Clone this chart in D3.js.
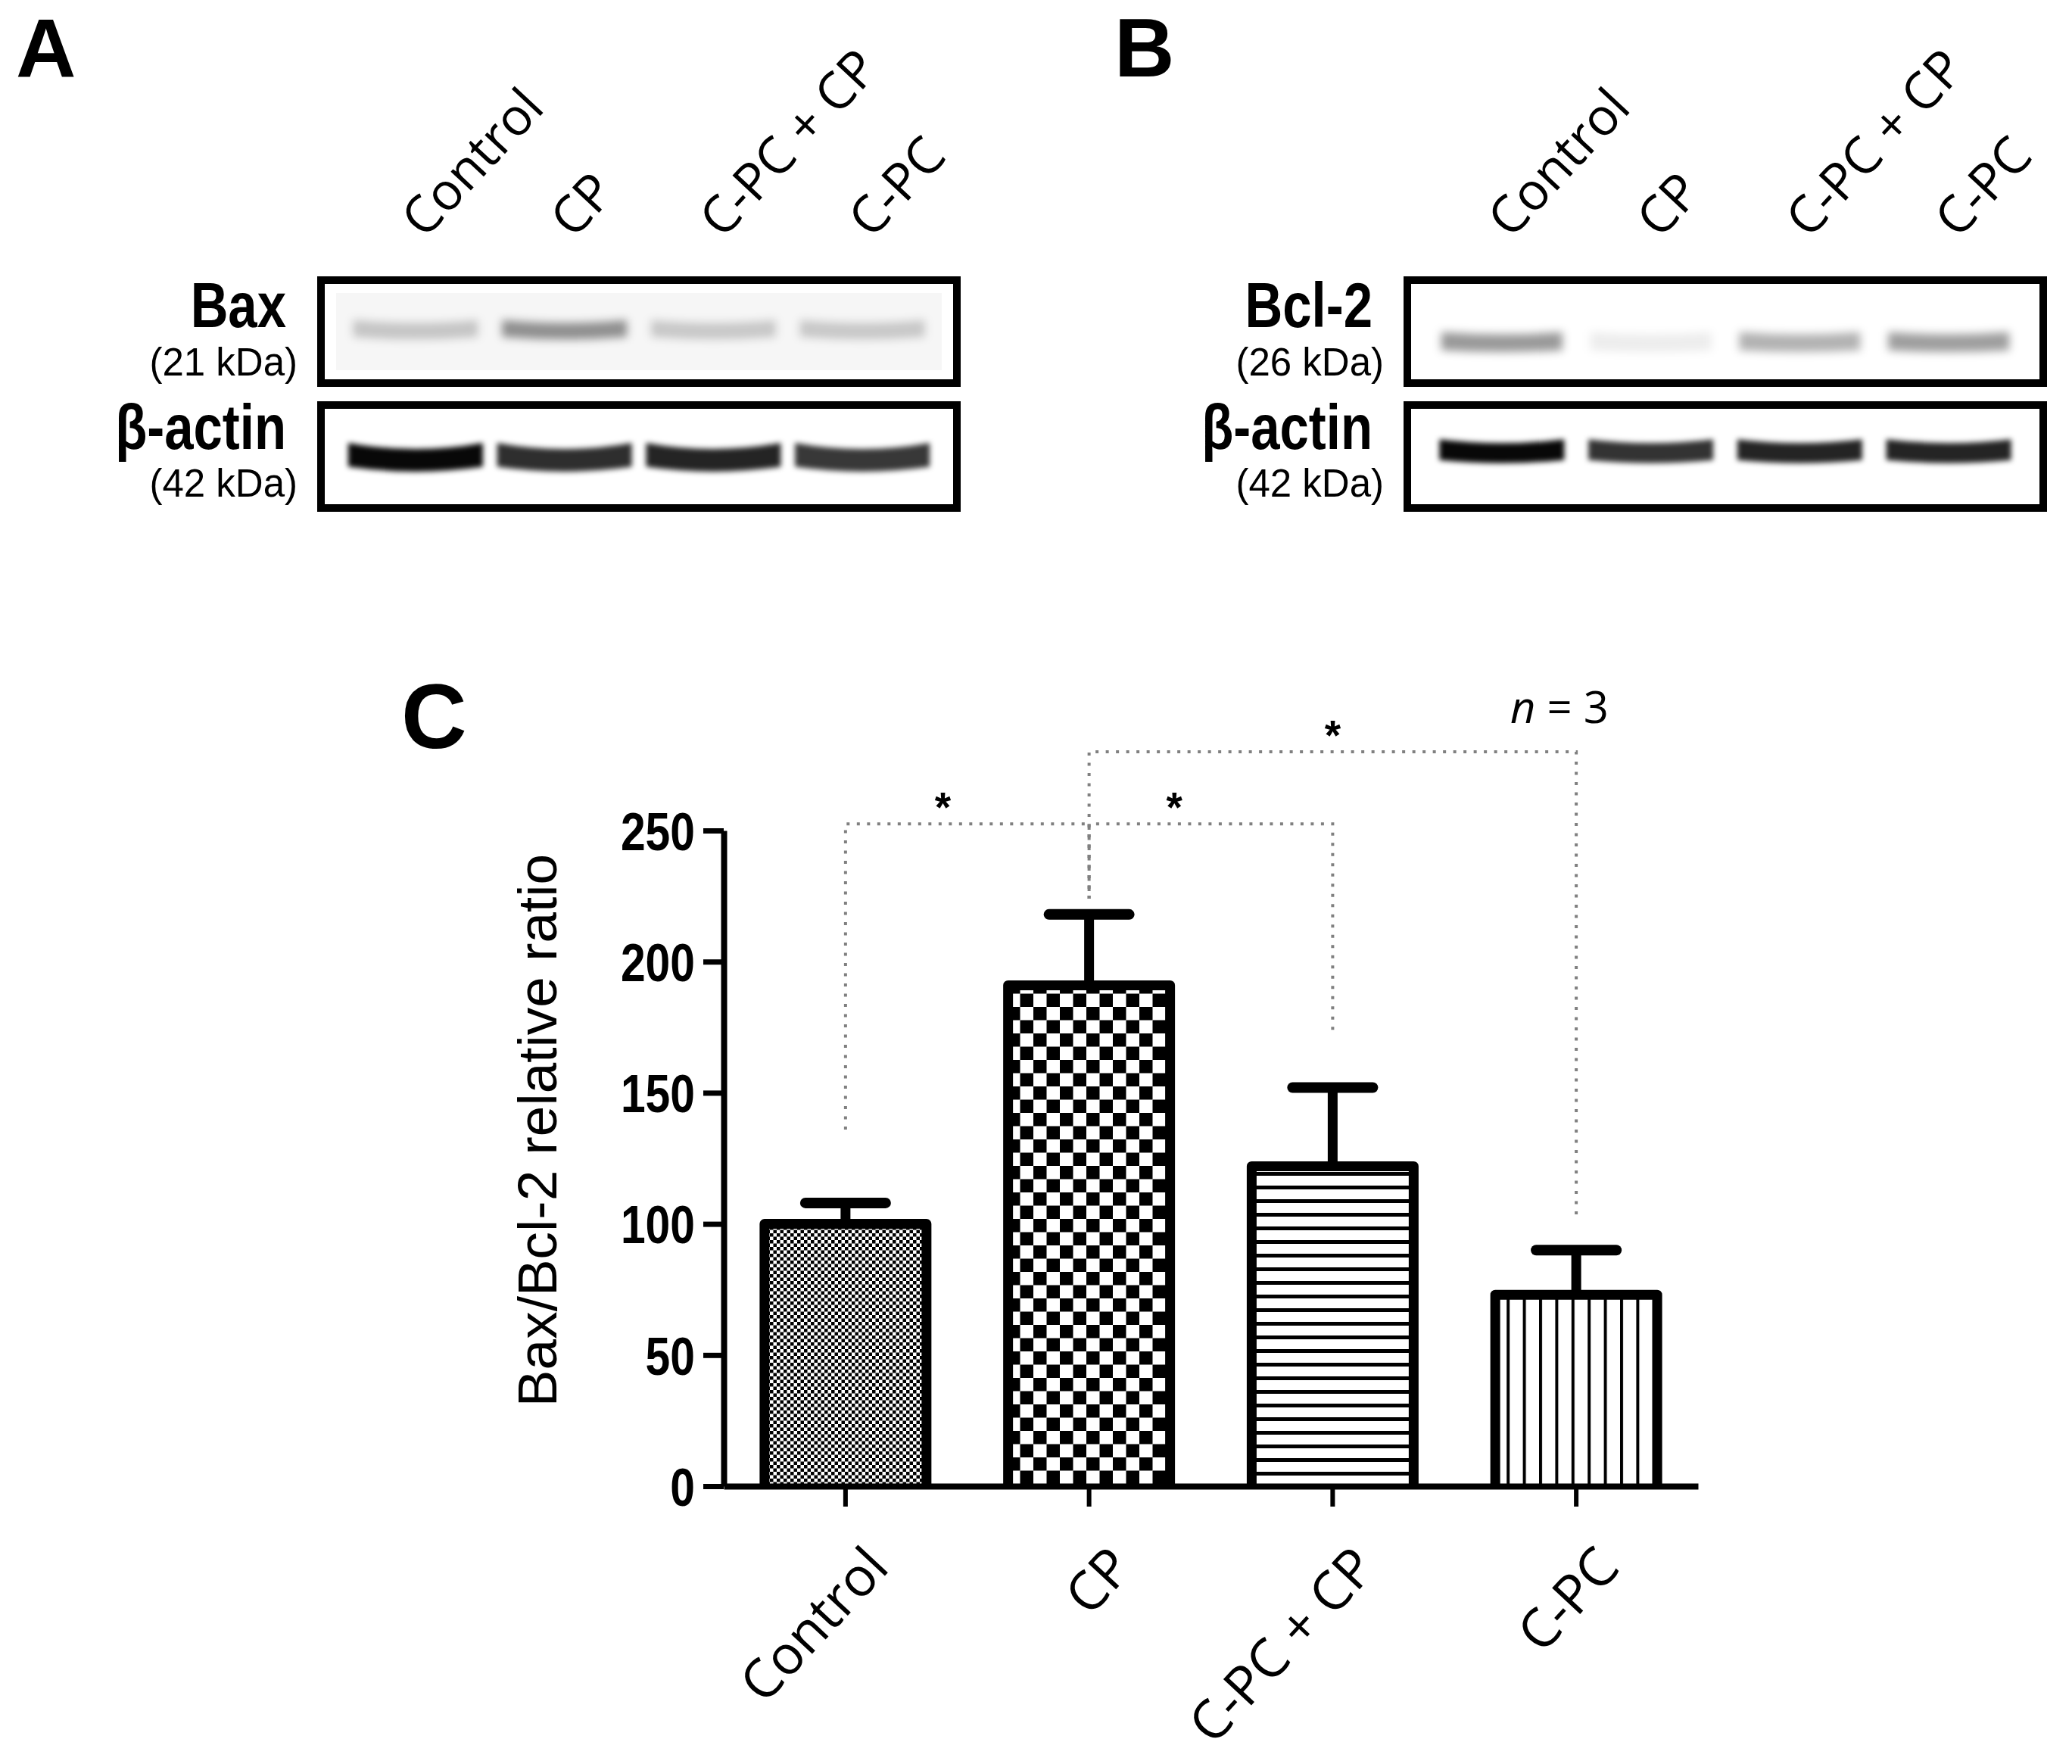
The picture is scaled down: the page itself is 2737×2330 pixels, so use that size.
<!DOCTYPE html>
<html>
<head>
<meta charset="utf-8">
<script src="https://cdn.jsdelivr.net/npm/d3@7"></script>
<style>
body { margin: 0; background: #fff; }
svg { display: block; }
</style>
</head>
<body>
<div id="fig"></div>
<script>
// bar chart (panel C)
var groups = ["Control", "CP", "C-PC + CP", "C-PC"];
var ratioMean = [100, 191, 122, 73];
var ratioSem = [8, 27, 30, 17];
var yTicks = [0, 50, 100, 150, 200, 250];
var barFill = ["fine", "checker", "hstripe", "vstripe"];

// significance brackets
var bracketFrom = ["Control", "CP", "CP"];
var bracketTo = ["CP", "C-PC + CP", "C-PC"];
var bracketLevel = [252.5, 252.5, 280];
var bracketDropFrom = [136, 224, 224];
var bracketDropTo = [224, 173, 103];
var bracketStarAt = [0.4, 0.35, 0.5];
var bracketMark = ["*", "*", "*"];

// western blots (panels A, B): relative band density per lane, 0 = blank, 1 = black
var lanes = ["Control", "CP", "C-PC + CP", "C-PC"];
var baxBand = [0.2, 0.42, 0.19, 0.19];
var actinBandA = [0.97, 0.82, 0.86, 0.78];
var bcl2Band = [0.4, 0.07, 0.3, 0.38];
var actinBandB = [0.97, 0.8, 0.86, 0.86];

var W = 2737, H = 2330;

var svg = d3.select("#fig").append("svg")
    .attr("width", W)
    .attr("height", H)
    .style("font-family", "'Liberation Sans', Arial, sans-serif");

var defs = svg.append("defs");

// hatch patterns like the prism output
var p = defs.append("pattern").attr("id", "fine")
    .attr("patternUnits", "userSpaceOnUse").attr("width", 9).attr("height", 9);
p.append("rect").attr("width", 9).attr("height", 9).attr("fill", "#fff");
p.append("rect").attr("width", 4.5).attr("height", 4.5).attr("fill", "#000");
p.append("rect").attr("x", 4.5).attr("y", 4.5).attr("width", 4.5).attr("height", 4.5).attr("fill", "#000");

p = defs.append("pattern").attr("id", "checker")
    .attr("patternUnits", "userSpaceOnUse").attr("width", 35).attr("height", 35);
p.append("rect").attr("width", 35).attr("height", 35).attr("fill", "#fff");
p.append("rect").attr("width", 17.5).attr("height", 17.5).attr("fill", "#000");
p.append("rect").attr("x", 17.5).attr("y", 17.5).attr("width", 17.5).attr("height", 17.5).attr("fill", "#000");

p = defs.append("pattern").attr("id", "hstripe")
    .attr("patternUnits", "userSpaceOnUse").attr("width", 10).attr("height", 18);
p.append("rect").attr("width", 10).attr("height", 18).attr("fill", "#fff");
p.append("rect").attr("width", 10).attr("height", 5).attr("fill", "#000");

p = defs.append("pattern").attr("id", "vstripe")
    .attr("patternUnits", "userSpaceOnUse").attr("width", 21.4).attr("height", 10);
p.append("rect").attr("width", 21.4).attr("height", 10).attr("fill", "#fff");
p.append("rect").attr("width", 4).attr("height", 10).attr("fill", "#000");

defs.append("filter").attr("id", "blurSoft").attr("x", "-20%").attr("y", "-100%")
    .attr("width", "140%").attr("height", "300%")
  .append("feGaussianBlur").attr("stdDeviation", 6);
defs.append("filter").attr("id", "blurHard").attr("x", "-20%").attr("y", "-100%")
    .attr("width", "140%").attr("height", "300%")
  .append("feGaussianBlur").attr("stdDeviation", 3.5);

// squeeze text horizontally (Arial Narrow look)
function narrow(sel, k) {
  sel.each(function() {
    var t = d3.select(this);
    t.attr("textLength", this.getComputedTextLength() * k)
     .attr("lengthAdjust", "spacingAndGlyphs");
  });
}

function bandPath(cx, cy, w, h, bend) {
  return "M" + (cx - w / 2) + "," + (cy - h / 2 - bend) +
    "Q" + cx + "," + (cy - h / 2 + bend) + " " + (cx + w / 2) + "," + (cy - h / 2 - bend) +
    "L" + (cx + w / 2) + "," + (cy + h / 2 - bend * 0.3) +
    "Q" + cx + "," + (cy + h / 2 + bend * 1.3) + " " + (cx - w / 2) + "," + (cy + h / 2 - bend * 0.3) + "Z";
}

// ---------- blots ----------
var blotW = 850, rowTop = [365, 530], rowH = 146;
var nameBase = [67, 63], kdaBase = [131, 126];

function blotPanel(left, letterX, letter, rows) {
  var g = svg.append("g");
  var lane = d3.scalePoint().domain(lanes).range([left, left + blotW]).padding(0.66);

  g.append("text")
      .attr("x", letterX).attr("y", 101)
      .attr("font-size", 110).attr("font-weight", "bold")
      .text(letter);

  g.selectAll(".lane").data(lanes).enter().append("text")
      .attr("class", "lane")
      .attr("transform", function(d) { return "translate(" + (lane(d) + 12) + ",317) rotate(-47)"; })
      .attr("font-family", "'Open Sans', sans-serif")
      .attr("font-size", 68)
      .text(function(d) { return d; });

  rows.forEach(function(r, i) {
    var top = rowTop[i];
    if (r.haze) {
      g.append("rect")
          .attr("x", left + 25).attr("y", top + 22)
          .attr("width", blotW - 50).attr("height", rowH - 44)
          .attr("fill", "#f6f6f6");
    }
    g.selectAll(".band" + i).data(r.density).enter().append("path")
        .attr("d", function(d, j) {
          return bandPath(lane(lanes[j]), top + rowH * r.pos, r.w, r.h, r.bend);
        })
        .attr("fill", "#000")
        .attr("fill-opacity", function(d) { return d; })
        .attr("filter", r.sharp ? "url(#blurHard)" : "url(#blurSoft)");

    g.append("rect")
        .attr("x", left + 5).attr("y", top + 5)
        .attr("width", blotW - 10).attr("height", rowH - 10)
        .attr("fill", "none").attr("stroke", "#000").attr("stroke-width", 10);

    var name = g.append("text")
        .attr("x", left - 41).attr("y", top + nameBase[i])
        .attr("text-anchor", "end")
        .attr("font-size", 84).attr("font-weight", "bold")
        .text(r.name);
    narrow(name, 0.82);

    g.append("text")
        .attr("x", left - 26).attr("y", top + kdaBase[i])
        .attr("text-anchor", "end")
        .attr("font-size", 51)
        .text(r.kda);
  });
}

blotPanel(419, 21, "A", [
  {name: "Bax", kda: "(21 kDa)", density: baxBand, pos: 0.49, w: 165, h: 20, bend: 4, haze: true},
  {name: "β-actin", kda: "(42 kDa)", density: actinBandA, pos: 0.52, w: 178, h: 26, bend: 8, sharp: true}
]);
blotPanel(1854, 1472, "B", [
  {name: "Bcl-2", kda: "(26 kDa)", density: bcl2Band, pos: 0.6, w: 160, h: 22, bend: 3},
  {name: "β-actin", kda: "(42 kDa)", density: actinBandB, pos: 0.46, w: 165, h: 24, bend: 5, sharp: true}
]);

// ---------- bar chart ----------
var chart = svg.append("g");

chart.append("text")
    .attr("x", 530).attr("y", 988)
    .attr("font-size", 120).attr("font-weight", "bold")
    .text("C");

var x = d3.scaleBand()
    .domain(groups)
    .range([956, 2243])
    .paddingInner(0.335)
    .paddingOuter(0.1675);

var y = d3.scaleLinear()
    .domain([0, 250])
    .range([1963, 1097]);

var data = groups.map(function(g, i) {
  return {group: g, mean: ratioMean[i], sem: ratioSem[i], fill: barFill[i]};
});

// bars without bottom edge
chart.selectAll(".bar").data(data).enter().append("path")
    .attr("class", "bar")
    .attr("d", function(d) {
      var x0 = x(d.group), x1 = x0 + x.bandwidth();
      return "M" + x0 + "," + y(0) + "V" + y(d.mean) + "H" + x1 + "V" + y(0);
    })
    .attr("fill", function(d) { return "url(#" + d.fill + ")"; })
    .attr("stroke", "#000")
    .attr("stroke-width", 13)
    .attr("stroke-linejoin", "round");

var cx = function(d) { return x(d.group) + x.bandwidth() / 2; };

chart.selectAll(".err").data(data).enter().append("line")
    .attr("x1", cx).attr("x2", cx)
    .attr("y1", function(d) { return y(d.mean); })
    .attr("y2", function(d) { return y(d.mean + d.sem); })
    .attr("stroke", "#000").attr("stroke-width", 13);

chart.selectAll(".cap").data(data).enter().append("line")
    .attr("x1", function(d) { return cx(d) - 53; })
    .attr("x2", function(d) { return cx(d) + 53; })
    .attr("y1", function(d) { return y(d.mean + d.sem); })
    .attr("y2", function(d) { return y(d.mean + d.sem); })
    .attr("stroke", "#000").attr("stroke-width", 14)
    .attr("stroke-linecap", "round");

// axes
var yAxis = chart.append("g")
    .attr("transform", "translate(956,0)")
    .call(d3.axisLeft(y).tickValues(yTicks).tickSize(27).tickSizeOuter(0).tickPadding(11));
yAxis.select(".domain").attr("stroke-width", 8);
yAxis.selectAll(".tick line").attr("stroke-width", 7);
yAxis.selectAll(".tick text")
    .attr("font-family", "'Liberation Sans', Arial, sans-serif")
    .attr("font-size", 70).attr("font-weight", "bold")
    .attr("fill", "#000")
    .attr("dy", "0.36em");
narrow(yAxis.selectAll(".tick text"), 0.84);

var xAxis = chart.append("g")
    .attr("transform", "translate(0,1963)")
    .call(d3.axisBottom(x).tickSize(27).tickSizeOuter(0));
xAxis.select(".domain").attr("stroke-width", 8);
xAxis.selectAll(".tick line").attr("stroke-width", 6);
xAxis.selectAll(".tick text")
    .attr("font-family", "'Open Sans', sans-serif")
    .attr("font-size", 71)
    .attr("fill", "#000")
    .attr("text-anchor", "end")
    .attr("x", null).attr("y", null).attr("dy", null)
    .attr("transform", "translate(60,110) rotate(-47)");

chart.append("text")
    .attr("transform", "translate(735,1493) rotate(-90)")
    .attr("text-anchor", "middle")
    .attr("font-size", 73)
    .text("Bax/Bcl-2 relative ratio");

// brackets
var brackets = bracketFrom.map(function(f, i) {
  return {from: f, to: bracketTo[i], level: bracketLevel[i],
          d0: bracketDropFrom[i], d1: bracketDropTo[i], at: bracketStarAt[i], mark: bracketMark[i]};
});
var mid = function(g) { return x(g) + x.bandwidth() / 2; };

chart.selectAll(".bracket").data(brackets).enter().append("path")
    .attr("d", function(b) {
      return "M" + mid(b.from) + "," + y(b.d0) + "V" + y(b.level) +
        "H" + mid(b.to) + "V" + y(b.d1);
    })
    .attr("fill", "none")
    .attr("stroke", "#808080")
    .attr("stroke-width", 4)
    .attr("stroke-dasharray", "4,9.5");

chart.selectAll(".star").data(brackets).enter().append("text")
    .attr("x", function(b) { return mid(b.from) + b.at * (mid(b.to) - mid(b.from)); })
    .attr("y", function(b) { return y(b.level) - 3; })
    .attr("text-anchor", "middle")
    .attr("font-size", 55).attr("font-weight", "bold")
    .text(function(b) { return b.mark; });

var note = chart.append("text")
    .attr("x", 1995).attr("y", 955)
    .attr("font-family", "'Open Sans', sans-serif")
    .attr("font-size", 58);
note.append("tspan").attr("font-style", "italic").text("n");
note.append("tspan").text(" = 3");
</script>
</body>
</html>
